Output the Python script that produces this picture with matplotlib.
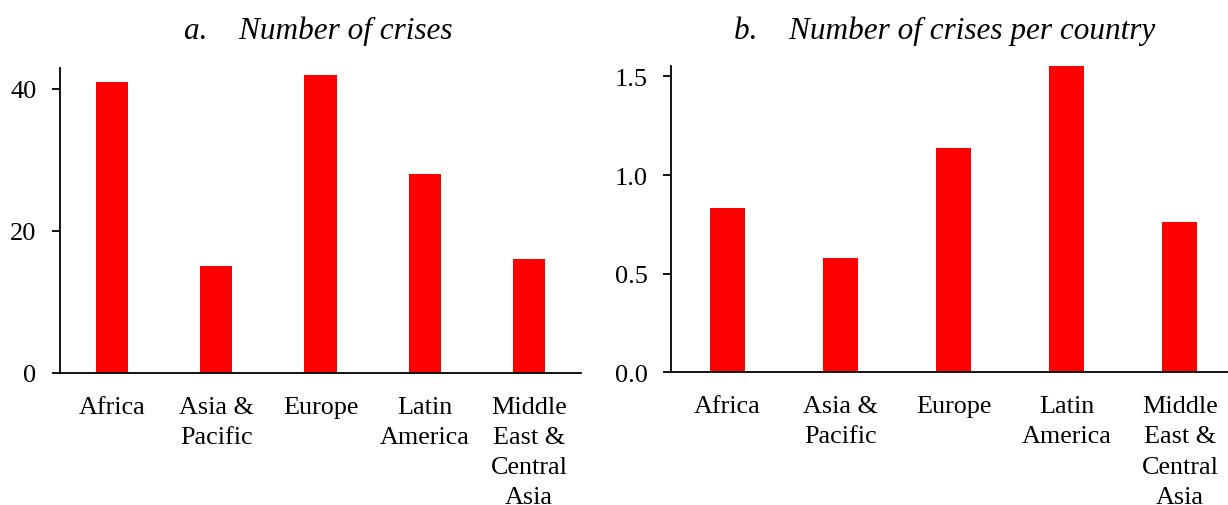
import matplotlib
matplotlib.use("Agg")
import matplotlib.pyplot as plt
import numpy

plt.rcParams["font.family"] = ["Liberation Serif", "DejaVu Serif"]

regions = [
    "Africa",
    "Asia &\nPacific",
    "Europe",
    "Latin\nAmerica",
    "Middle\nEast &\nCentral\nAsia",
]
crises = [41, 15, 42, 28, 16]
crises_per_country = [0.835, 0.577, 1.135, 1.556, 0.762]

_RED = "#ff0000"
_W, _H = 1228, 506


def _panel(fig, rect, values, ylim, yticks, yfmt):
    ax = fig.add_axes(rect)
    x = numpy.arange(len(values))
    ax.bar(x, values, width=0.31, color=_RED)
    ax.set_xlim(-0.5, len(values) - 0.5)
    ax.set_ylim(*ylim)
    ax.set_yticks(yticks)
    ax.set_yticklabels([yfmt.format(v) for v in yticks])
    ax.set_xticks(x)
    ax.set_xticklabels(regions, multialignment="center", linespacing=1.48)
    for s in ("top", "right"):
        ax.spines[s].set_visible(False)
    for s in ("left", "bottom"):
        ax.spines[s].set_linewidth(1.3)
    ax.tick_params(axis="y", length=6, width=1.3, pad=11, labelsize=19)
    ax.tick_params(axis="x", length=0, pad=16.5, labelsize=18.8)
    return ax


fig = plt.figure(figsize=(_W / 100, _H / 100), dpi=100)

_panel(
    fig,
    [60 / _W, 132 / _H, 521 / _W, (374 - 69.3) / _H],
    crises,
    (0, 42.9),
    [0, 20, 40],
    "{:d}",
)
_panel(
    fig,
    [671 / _W, 132.7 / _H, 565.5 / _W, (373.3 - 67.3) / _H],
    crises_per_country,
    (0, 1.551),
    [0.0, 0.5, 1.0, 1.5],
    "{:.1f}",
)

fig.text(318 / _W, 1 - 38.5 / _H, "a.    Number of crises", ha="center",
         va="baseline", fontsize=22.5, style="italic")
fig.text(945 / _W, 1 - 38.5 / _H, "b.    Number of crises per country",
         ha="center", va="baseline", fontsize=22.5, style="italic")

fig.savefig("out.png", dpi=100)
